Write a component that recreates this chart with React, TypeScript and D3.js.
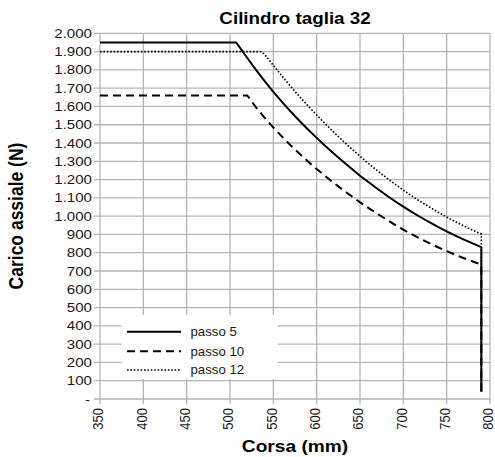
import React from "react";
import * as d3 from "d3";

// Carico assiale vs corsa, cilindro taglia 32
const passo5: [number, number][] = [
  [350, 1950], [507, 1950], [520, 1865], [530, 1800], [540, 1738], [550, 1680],
  [560, 1625], [570, 1572], [580, 1522], [590, 1474], [600, 1428], [610, 1384],
  [620, 1341], [630, 1300], [640, 1260], [650, 1221], [660, 1185], [670, 1150],
  [680, 1116], [690, 1083], [700, 1052], [710, 1022], [720, 994], [730, 967],
  [740, 941], [750, 917], [760, 894], [770, 872], [780, 851], [790, 831], [790, 40],
];

const passo10: [number, number][] = [
  [350, 1660], [520, 1660], [530, 1595], [540, 1538], [550, 1485], [560, 1435],
  [570, 1387], [580, 1342], [590, 1299], [600, 1258], [610, 1219], [620, 1181],
  [630, 1145], [640, 1110], [650, 1076], [660, 1044], [670, 1013], [680, 983],
  [690, 954], [700, 926], [710, 900], [720, 876], [730, 852], [740, 830],
  [750, 809], [760, 789], [770, 770], [780, 752], [790, 735], [790, 40],
];

const passo12: [number, number][] = [
  [350, 1900], [536, 1900], [540, 1884], [550, 1825], [560, 1766], [570, 1709],
  [580, 1655], [590, 1603], [600, 1553], [610, 1505], [620, 1458], [630, 1413],
  [640, 1369], [650, 1327], [660, 1287], [670, 1249], [680, 1212], [690, 1176],
  [700, 1142], [710, 1110], [720, 1079], [730, 1050], [740, 1022], [750, 995],
  [760, 970], [770, 946], [780, 923], [790, 902], [790, 40],
];

const seriesNames = ["passo 5", "passo 10", "passo 12"];
const xTicks = [350, 400, 450, 500, 550, 600, 650, 700, 750, 800];
const yTicks = d3.range(0, 2001, 100);

const W = 495;
const H = 457;
const SX = 1.16; // horizontal glyph stretch
const FONT = "'Liberation Sans', Arial, sans-serif";

const x = d3.scaleLinear().domain([350, 800]).range([100, 490]);
const y = d3.scaleLinear().domain([0, 2000]).range([399, 33.3]);

const locale = d3.formatLocale({
  decimal: ",",
  thousands: ".",
  grouping: [3],
  currency: ["", ""],
});
const fmt = locale.format(",.0f");
const yLabel = (v: number) => (v === 0 ? "-" : fmt(v));

const line = d3
  .line<[number, number]>()
  .x((d) => x(d[0]))
  .y((d) => y(d[1]));

const styles = [
  { data: passo5, width: 2, dash: "none" },
  { data: passo10, width: 2, dash: "8,5" },
  { data: passo12, width: 1.6, dash: "1.6,1.8" },
];

const GRID = "#b5b5b5";

export default function App() {
  return (
    <svg
      width={W}
      height={H}
      style={{ position: "absolute", left: 0, top: 0, background: "#fff" }}
      fontFamily={FONT}
    >
      <rect width={W} height={H} fill="#fff" />

      {/* grid */}
      {yTicks.map((t) => (
        <line key={"gy" + t} x1={94} x2={490} y1={y(t)} y2={y(t)} stroke={GRID} strokeWidth={1.3} />
      ))}
      {xTicks.map((t) => (
        <line key={"gx" + t} x1={x(t)} x2={x(t)} y1={33.3} y2={404} stroke={GRID} strokeWidth={1.3} />
      ))}

      {/* legend background */}
      <rect x={121.7} y={315} width={156.3} height={64} fill="#fff" />

      {/* series */}
      {styles.map((s, i) => (
        <path
          key={"s" + i}
          d={line(s.data) || ""}
          fill="none"
          stroke="#000"
          strokeWidth={s.width}
          strokeDasharray={s.dash}
          strokeLinejoin="round"
        />
      ))}

      {/* legend entries */}
      {styles.map((s, i) => {
        const ly = [331.7, 351.2, 370][i];
        return (
          <g key={"l" + i}>
            <line x1={127} x2={181} y1={ly} y2={ly} stroke="#000" strokeWidth={s.width} strokeDasharray={s.dash} />
            <text
              transform={`translate(190.5,${ly}) scale(1.05,1)`}
              fontSize={12.6}
              dominantBaseline="central"
              fill="#1a1a1a"
            >
              {seriesNames[i]}
            </text>
          </g>
        );
      })}

      {/* y tick labels */}
      {yTicks.map((t) => (
        <text
          key={"ly" + t}
          transform={`translate(${t === 0 ? 90 : 92},${y(t)}) scale(${SX},1)`}
          fontSize={13}
          textAnchor="end"
          dominantBaseline="central"
          fill="#1a1a1a"
        >
          {yLabel(t)}
        </text>
      ))}

      {/* x tick labels */}
      {xTicks.map((t) => (
        <text
          key={"lx" + t}
          transform={`translate(${x(t) + 3.2},408) scale(${SX},1) rotate(-90)`}
          fontSize={13}
          textAnchor="end"
          fill="#1a1a1a"
        >
          {t}
        </text>
      ))}

      {/* titles */}
      <text
        transform={`translate(295,24) scale(${SX},1)`}
        fontSize={16.2}
        fontWeight="bold"
        textAnchor="middle"
        fill="#000"
      >
        Cilindro taglia 32
      </text>
      <text
        transform={`translate(295,452) scale(${SX},1)`}
        fontSize={16.5}
        fontWeight="bold"
        textAnchor="middle"
        fill="#000"
      >
        Corsa (mm)
      </text>
      <text
        transform={`translate(23,216) scale(${SX},1) rotate(-90)`}
        fontSize={17.5}
        fontWeight="bold"
        textAnchor="middle"
        fill="#000"
      >
        Carico assiale (N)
      </text>
    </svg>
  );
}
